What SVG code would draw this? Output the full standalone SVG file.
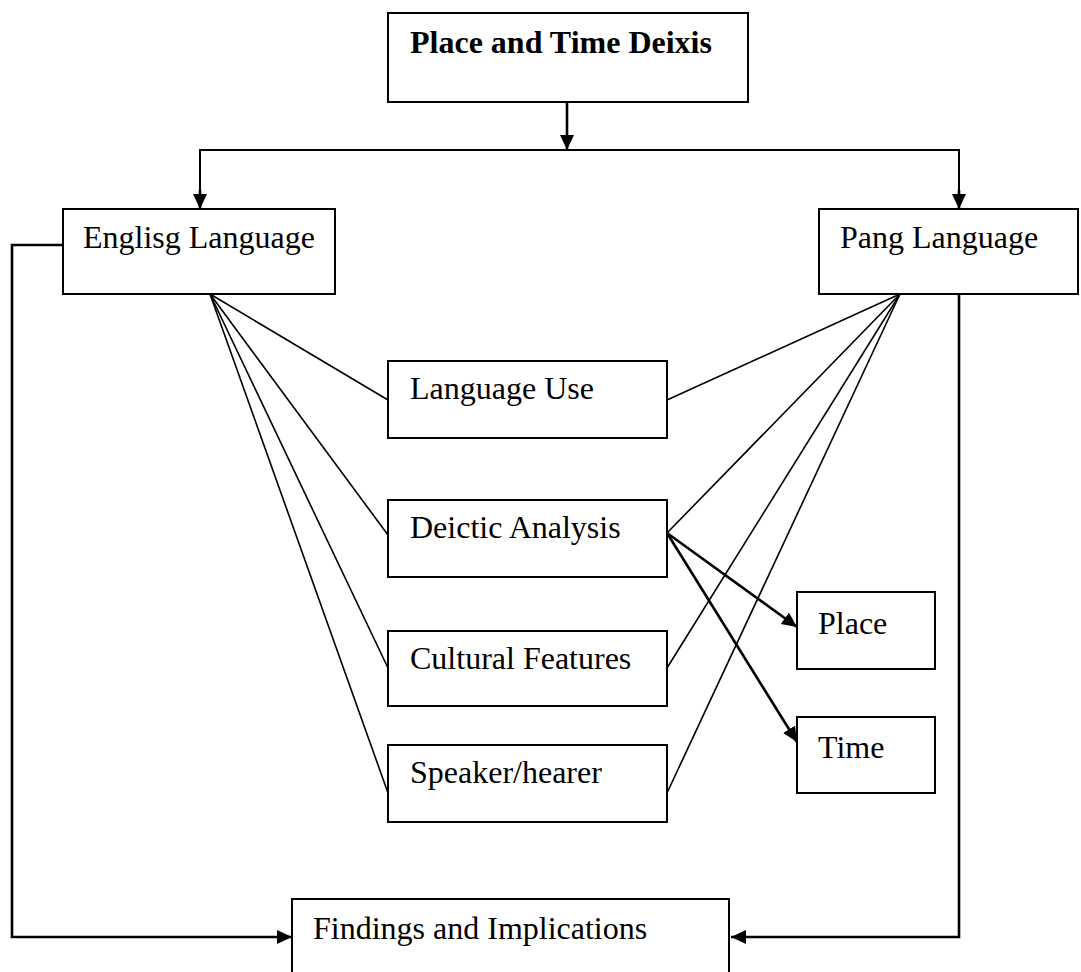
<svg xmlns="http://www.w3.org/2000/svg" width="1081" height="972" viewBox="0 0 1081 972">
<defs>
<marker id="ah" markerUnits="userSpaceOnUse" markerWidth="16" markerHeight="16" refX="15" refY="7" orient="auto">
<path d="M0,0 L15,7 L0,14 z" fill="#000"/>
</marker>
</defs>
<style>
.box{fill:#fff;stroke:#000;stroke-width:2}
.t{font-family:"Liberation Serif","Times New Roman",serif;font-size:32px;fill:#000}
.tb{font-weight:bold}
.fan{fill:none;stroke:#000;stroke-width:1.6}
.arr{fill:none;stroke:#000;stroke-width:2.6}
.ln{fill:none;stroke:#000;stroke-width:2}
</style>
<rect width="1081" height="972" fill="#fff"/>
<g id="connectors">
<line class="arr" x1="567" y1="102" x2="567" y2="150" marker-end="url(#ah)"/>
<polyline class="ln" points="200,208 200,150 959,150 959,208"/>
<line class="arr" x1="200" y1="190" x2="200" y2="209" marker-end="url(#ah)"/>
<line class="arr" x1="959" y1="190" x2="959" y2="209" marker-end="url(#ah)"/>
<polyline class="arr" points="63,245 12,245 12,937 292,937" marker-end="url(#ah)"/>
<polyline class="arr" points="959,294 959,937 731,937" marker-end="url(#ah)"/>
<line class="fan" x1="210" y1="294" x2="388" y2="400"/>
<line class="fan" x1="210" y1="294" x2="388" y2="535"/>
<line class="fan" x1="210" y1="294" x2="388" y2="668"/>
<line class="fan" x1="210" y1="294" x2="388" y2="793"/>
<line class="fan" x1="900" y1="294" x2="667" y2="400"/>
<line class="fan" x1="900" y1="294" x2="667" y2="533"/>
<line class="fan" x1="900" y1="294" x2="667" y2="668"/>
<line class="fan" x1="900" y1="294" x2="667" y2="793"/>
<line class="arr" x1="667" y1="533" x2="797" y2="627" marker-end="url(#ah)"/>
<line class="arr" x1="667" y1="533" x2="797" y2="742" marker-end="url(#ah)"/>
</g>
<g id="title">
<rect class="box" x="388" y="13" width="360" height="89"/>
<text class="t tb" x="410" y="53">Place and Time Deixis</text>
</g>
<g id="english">
<rect class="box" x="63" y="209" width="272" height="85"/>
<text class="t" x="83" y="248">Englisg Language</text>
</g>
<g id="pang">
<rect class="box" x="819" y="209" width="259" height="85"/>
<text class="t" x="840" y="248">Pang Language</text>
</g>
<g id="language-use">
<rect class="box" x="388" y="361" width="279" height="77"/>
<text class="t" x="410" y="399">Language Use</text>
</g>
<g id="deictic">
<rect class="box" x="388" y="500" width="279" height="77"/>
<text class="t" x="410" y="538">Deictic Analysis</text>
</g>
<g id="cultural">
<rect class="box" x="388" y="631" width="279" height="75"/>
<text class="t" x="410" y="669">Cultural Features</text>
</g>
<g id="speaker">
<rect class="box" x="388" y="745" width="279" height="77"/>
<text class="t" x="410" y="783">Speaker/hearer</text>
</g>
<g id="place">
<rect class="box" x="797" y="592" width="138" height="77"/>
<text class="t" x="818" y="634">Place</text>
</g>
<g id="time">
<rect class="box" x="797" y="717" width="138" height="76"/>
<text class="t" x="818" y="758">Time</text>
</g>
<g id="findings">
<rect class="box" x="292" y="899" width="437" height="100"/>
<text class="t" x="313" y="939">Findings and Implications</text>
</g>
</svg>
